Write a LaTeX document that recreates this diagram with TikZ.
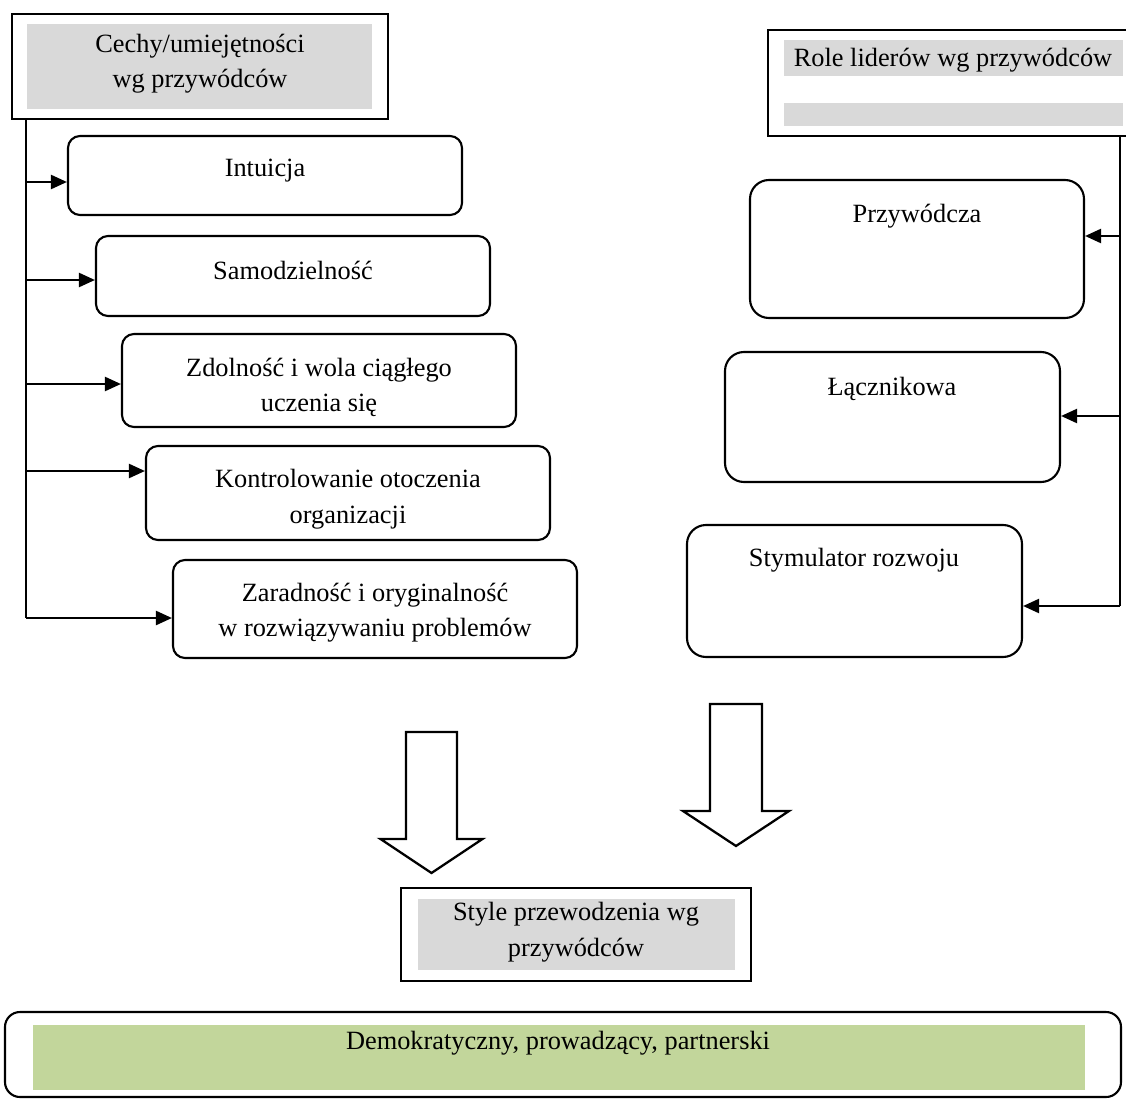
\documentclass[tikz,border=0pt]{standalone}
\usepackage{fontspec}
\setmainfont{Liberation Serif}
\usetikzlibrary{arrows.meta,positioning,calc,fit}
\definecolor{hdGray}{HTML}{D9D9D9}
\definecolor{stGreen}{HTML}{C2D69B}
\tikzset{
  % Square header frame
  hbox/.style={rectangle,draw=black,line width=1.3pt,inner sep=0pt},
  % Gray band inside a frame
  gband/.style={rectangle,fill=hdGray,inner sep=0pt},
  % Rounded box (left column)
  lbox/.style={rectangle,rounded corners=0.24cm,draw=black,
    line width=1.2pt,inner sep=0pt},
  % Rounded box (right column)
  rbox/.style={lbox,rounded corners=0.38cm},
  % Text
  txt/.style={font=\fontsize{15pt}{20pt}\selectfont,align=center,
    inner sep=0pt,yshift=-0.065cm},
  % Lines and arrows
  arr/.style={-{Triangle[length=0.32cm,width=0.28cm]},line width=1.3pt},
  trunk/.style={line width=1.3pt},
  blk/.style={draw=black,fill=white,line width=1.3pt,line join=miter},
}
\begin{document}
\begin{tikzpicture}[x=0.02cm,y=-0.02cm]
  \useasboundingbox (0,0) rectangle (1126,1099);

  % left header
  \node[hbox,fit={(12,14) (388,119)}] (hdrL) {};
  \node[gband,fit={(27,24) (372,109)}] (hdrLband) {};
  \node[txt] (hdrLT) at (200,60) {Cechy/umiejętności\\wg przywódców};

  % left column
  \node[lbox,fit={(68,136) (462,215)}] (intu) {};
  \node[txt] (intuT) at (265,167) {Intuicja};
  \node[lbox,fit={(96,236) (490,316)}] (samo) {};
  \node[txt] (samoT) at (293,267) {Samodzielność};
  \node[lbox,fit={(122,334) (516,427)}] (zdol) {};
  \node[txt] (zdolT) at (319,384) {Zdolność i wola ciągłego\\uczenia się};
  \node[lbox,fit={(146,446) (550,540)}] (kontr) {};
  \node[txt] (kontrT) at (348,496) {Kontrolowanie otoczenia\\organizacji};
  \node[lbox,fit={(173,560) (577,658)}] (zar) {};
  \node[txt] (zarT) at (375,609) {Zaradność i oryginalność\\w rozwiązywaniu problemów};

  \coordinate (trunkL) at ($(hdrL.south west)+(15,0)$);
  \coordinate (inIntu) at ($(intu.west)+(0,6.5)$);
  \coordinate (inSamo) at ($(samo.west)+(0,4)$);
  \coordinate (inZdol) at ($(zdol.west)+(0,3.5)$);
  \coordinate (inKontr) at ($(kontr.west)+(0,-22)$);
  \coordinate (inZar) at ($(zar.west)+(0,9)$);
  \draw[trunk] (trunkL) -- (trunkL |- inZar);
  \draw[arr] (trunkL |- inIntu) -- (inIntu);
  \draw[arr] (trunkL |- inSamo) -- (inSamo);
  \draw[arr] (trunkL |- inZdol) -- (inZdol);
  \draw[arr] (trunkL |- inKontr) -- (inKontr);
  \draw[arr] (trunkL |- inZar) -- (inZar);

  % right header
  \node[hbox,fit={(768,30) (1140,136)}] (hdrR) {};
  \node[gband,fit={(784,40) (1123,76)}] (hdrRband) {};
  \node[gband,fit={(784,103) (1123,126)}] (hdrRband2) {};
  \node[txt] (hdrRT) at (953,57) {Role liderów wg przywódców};

  % right column
  \node[rbox,fit={(750,180) (1084,318)}] (przyw) {};
  \node[txt] (przywT) at (917,213) {Przywódcza};
  \node[rbox,fit={(725,352) (1060,482)}] (lacz) {};
  \node[txt] (laczT) at (892,386) {Łącznikowa};
  \node[rbox,fit={(687,525) (1022,657)}] (stym) {};
  \node[txt] (stymT) at (854,557) {Stymulator rozwoju};

  \coordinate (trunkR) at (1120,0 |- hdrR.south);
  \coordinate (inPrzyw) at ($(przyw.east)+(0,-13)$);
  \coordinate (inLacz) at ($(lacz.east)+(0,-1)$);
  \coordinate (inStym) at ($(stym.east)+(0,15)$);
  \draw[trunk] (trunkR) -- (trunkR |- inStym);
  \draw[arr] (trunkR |- inPrzyw) -- (inPrzyw);
  \draw[arr] (trunkR |- inLacz) -- (inLacz);
  \draw[arr] (trunkR |- inStym) -- (inStym);

  % block arrows
  \coordinate (tipL) at (431.5,873);
  \draw[blk] (tipL) -- ++(-51,-34) -- ++(25.5,0) -- ++(0,-107)
    -- ++(51,0) -- ++(0,107) -- ++(25.5,0) -- cycle;
  \coordinate (tipR) at (736,846);
  \draw[blk] (tipR) -- ++(-53,-35) -- ++(27,0) -- ++(0,-107)
    -- ++(52,0) -- ++(0,107) -- ++(27,0) -- cycle;

  % styles
  \node[hbox,fit={(401,888) (751,981)}] (styl) {};
  \node[gband,fit={(418,899) (735,970)}] (stylband) {};
  \node[txt] (stylT) at (576,929) {Style przewodzenia wg\\przywódców};

  \node[lbox,rounded corners=0.3cm,fit={(5,1012) (1121,1097)}] (dem) {};
  \node[gband,fill=stGreen,fit={(33,1025) (1085,1090)}] (demband) {};
  \node[txt] (demT) at (558,1040) {Demokratyczny, prowadzący, partnerski};
\end{tikzpicture}
\end{document}
